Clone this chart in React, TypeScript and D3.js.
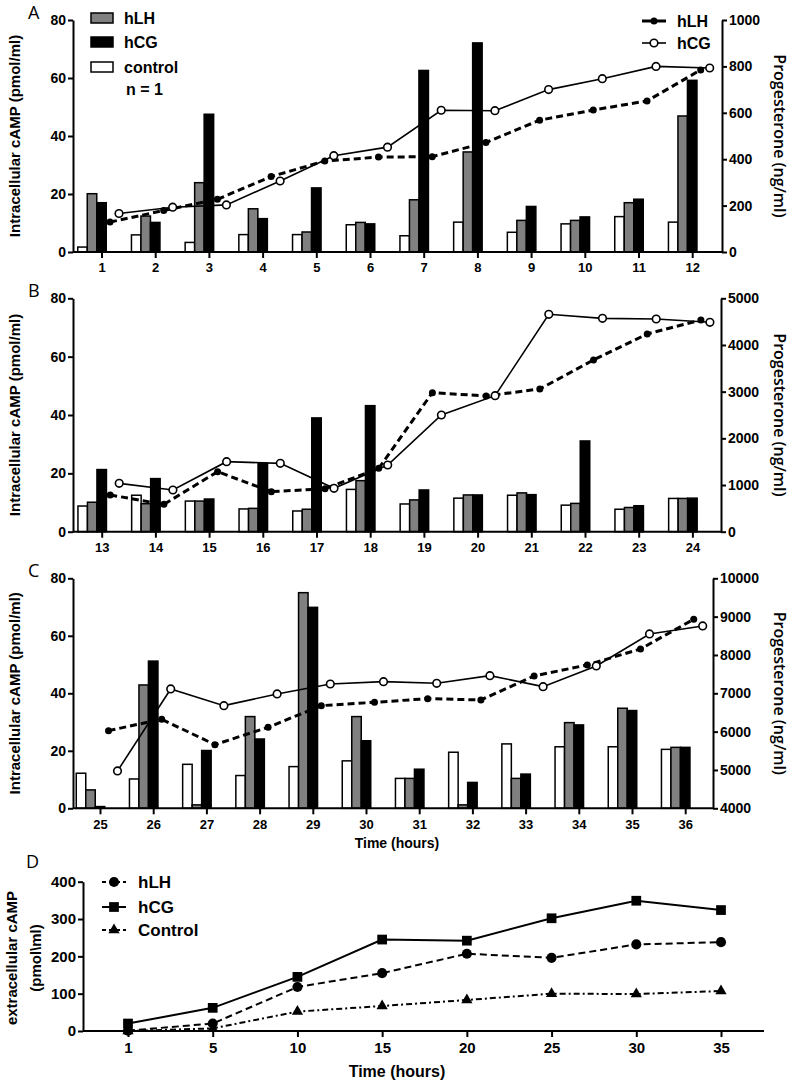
import React, { useEffect, useRef } from 'react';
import * as d3 from 'd3';

const W = 794, H = 1085;
const X0 = 73;           // left axis of panels A-C
const BW = 9.5;          // bar width
const OFF_LH = 8.5;      // progesterone hLH point offset from tick
const OFF_CG = 17.5;     // progesterone hCG point offset from tick
const FONT = "'Liberation Sans', Arial, sans-serif";
const FONT_R = "'Open Sans', 'Liberation Sans', sans-serif";

// ---- panel A (1-12)
const catsA = ['1', '2', '3', '4', '5', '6', '7', '8', '9', '10', '11', '12'];
const controlA = [1.7, 5.9, 3.3, 6.0, 6.0, 9.4, 5.6, 10.3, 6.8, 9.7, 12.2, 10.3];
const hlhA = [20.1, 12.4, 23.9, 14.9, 6.9, 10.2, 18.0, 34.5, 10.9, 10.9, 17.0, 46.9];
const hcgA = [17.0, 10.2, 47.5, 11.5, 22.1, 9.7, 62.6, 72.1, 15.7, 12.1, 18.2, 59.2];
const progLhA = [129, 179, 227, 325, 392, 409, 411, 472, 568, 612, 651, 785];
const progCgA = [166, 193, 203, 306, 415, 452, 611, 609, 700, 747, 800, 793];
const rTicksA = [0, 200, 400, 600, 800, 1000];

// ---- panel B (13-24)
const catsB = ['13', '14', '15', '16', '17', '18', '19', '20', '21', '22', '23', '24'];
const controlB = [8.8, 12.5, 10.5, 7.8, 7.1, 14.5, 9.5, 11.5, 12.5, 9.1, 7.7, 11.4];
const hlhB = [10.1, 9.6, 10.5, 8.0, 7.7, 17.5, 10.9, 12.6, 13.3, 9.7, 8.3, 11.4];
const hcgB = [21.3, 18.2, 11.2, 23.5, 39.0, 43.2, 14.3, 12.6, 12.7, 31.1, 8.9, 11.5];
const progLhB = [786, 586, 1286, 857, 921, 1357, 2979, 2907, 3057, 3679, 4236, 4536];
const progCgB = [1036, 893, 1500, 1464, 929, 1429, 2500, 2914, 4657, 4571, 4557, 4486];
const rTicksB = [0, 1000, 2000, 3000, 4000, 5000];

// ---- panel C (25-36)
const catsC = ['25', '26', '27', '28', '29', '30', '31', '32', '33', '34', '35', '36'];
const controlC = [12.2, 10.2, 15.3, 11.4, 14.5, 16.5, 10.4, 19.5, 22.4, 21.4, 21.4, 20.5];
const hlhC = [6.4, 42.9, 1.2, 31.9, 75.0, 31.9, 10.4, 1.2, 10.4, 29.8, 34.8, 21.2];
const hcgC = [0.6, 51.2, 20.1, 24.1, 69.9, 23.5, 13.6, 9.0, 11.9, 29.0, 34.0, 21.2];
const progLhC = [6026, 6322, 5661, 6113, 6678, 6765, 6861, 6826, 7452, 7739, 8157, 8930];
const progCgC = [4974, 7113, 6678, 6983, 7243, 7304, 7261, 7461, 7174, 7713, 8548, 8757];
const rTicksC = [4000, 5000, 6000, 7000, 8000, 9000, 10000];

const leftTicks = [0, 20, 40, 60, 80];

// ---- panel D
const timesD = ['1', '5', '10', '15', '20', '25', '30', '35'];
const hlhD = [1, 20, 118, 155, 207, 196, 232, 238];
const hcgD = [20, 62, 145, 245, 242, 302, 349, 324];
const controlD = [0, 7, 52, 67, 83, 100, 99, 107];
const ticksD = [0, 100, 200, 300, 400];

const panels = [
  { letter: 'A', cats: catsA, control: controlA, hlh: hlhA, hcg: hcgA, lh: progLhA, cg: progCgA, rTicks: rTicksA,
    top: 20, bottom: 252, right: 722, first: 101.5, step: 53.7, legend: true, xTitle: false },
  { letter: 'B', cats: catsB, control: controlB, hlh: hlhB, hcg: hcgB, lh: progLhB, cg: progCgB, rTicks: rTicksB,
    top: 298.3, bottom: 531.7, right: 721, first: 101.7, step: 53.7, legend: false, xTitle: false },
  { letter: 'C', cats: catsC, control: controlC, hlh: hlhC, hcg: hcgC, lh: progLhC, cg: progCgC, rTicks: rTicksC,
    top: 578.3, bottom: 808.3, right: 713, first: 100, step: 53.2, legend: false, xTitle: true },
];

function styleAxis(a, size) {
  a.selectAll('path, line').attr('stroke', '#000').attr('stroke-width', 2);
  a.selectAll('text').attr('font-family', FONT).attr('font-weight', 'bold').attr('font-size', size).attr('fill', '#000');
}

function drawPanel(svg, p) {
  const g = svg.append('g');
  const y = d3.scaleLinear().domain([0, 80]).range([p.bottom, p.top]);
  const yR = d3.scaleLinear().domain([p.rTicks[0], p.rTicks[p.rTicks.length - 1]]).range([p.bottom, p.top]);
  const x = d3.scaleLinear().domain([0, 11]).range([p.first, p.first + 11 * p.step]);

  // bars
  const series = [
    { vals: p.control, fill: '#fff', off: -2.5 },
    { vals: p.hlh, fill: '#808080', off: -1.5 },
    { vals: p.hcg, fill: '#000', off: -0.5 },
  ];
  series.forEach(s => {
    g.append('g').selectAll('rect').data(s.vals).join('rect')
      .attr('x', (d, i) => x(i) + s.off * BW)
      .attr('y', d => y(d))
      .attr('width', BW)
      .attr('height', d => y(0) - y(d))
      .attr('fill', s.fill).attr('stroke', '#000').attr('stroke-width', 1.5);
  });

  // axes
  const la = g.append('g').attr('transform', `translate(${X0},0)`)
    .call(d3.axisLeft(y).tickValues(leftTicks).tickSize(5).tickPadding(2).tickSizeOuter(0));
  styleAxis(la, 14);
  const ra = g.append('g').attr('transform', `translate(${p.right},0)`)
    .call(d3.axisRight(yR).tickValues(p.rTicks).tickSize(5).tickPadding(2).tickSizeOuter(0).tickFormat(d3.format('d')));
  styleAxis(ra, 14);
  const ba = g.append('g').attr('transform', `translate(0,${p.bottom})`)
    .call(d3.axisBottom(x).tickValues(d3.range(12)).tickSize(6).tickPadding(5).tickFormat(i => p.cats[i]));
  ba.select('.domain').remove();
  styleAxis(ba, 13);
  g.append('line').attr('x1', X0).attr('x2', p.right).attr('y1', p.bottom).attr('y2', p.bottom)
    .attr('stroke', '#000').attr('stroke-width', 2);

  // progesterone lines
  const lineLh = d3.line().x((d, i) => x(i) + OFF_LH).y(d => yR(d));
  const lineCg = d3.line().x((d, i) => x(i) + OFF_CG).y(d => yR(d));
  g.append('path').attr('d', lineLh(p.lh)).attr('fill', 'none').attr('stroke', '#000')
    .attr('stroke-width', 3).attr('stroke-dasharray', '7,4');
  g.append('path').attr('d', lineCg(p.cg)).attr('fill', 'none').attr('stroke', '#000').attr('stroke-width', 1.6);
  g.append('g').selectAll('circle').data(p.lh).join('circle')
    .attr('cx', (d, i) => x(i) + OFF_LH).attr('cy', d => yR(d)).attr('r', 3.5).attr('fill', '#000');
  g.append('g').selectAll('circle').data(p.cg).join('circle')
    .attr('cx', (d, i) => x(i) + OFF_CG).attr('cy', d => yR(d)).attr('r', 3.8)
    .attr('fill', '#fff').attr('stroke', '#000').attr('stroke-width', 1.6);

  // titles
  const mid = (p.top + p.bottom) / 2;
  g.append('text').attr('transform', `translate(15,${mid}) rotate(-90)`).attr('text-anchor', 'middle')
    .attr('dy', '0.35em').attr('font-family', FONT).attr('font-weight', 'bold').attr('font-size', 15)
    .text('Intracellular cAMP (pmol/ml)');
  g.append('text').attr('transform', `translate(780,${mid}) rotate(90)`).attr('text-anchor', 'middle')
    .attr('dy', '0.35em').attr('font-family', FONT_R).attr('font-weight', 600).attr('font-size', 16)
    .text('Progesterone (ng/ml)');
  g.append('text').attr('x', 28).attr('y', p.top - 1).attr('font-family', FONT_R).attr('font-size', 18)
    .text(p.letter);
  if (p.xTitle) {
    g.append('text').attr('x', 397).attr('y', p.bottom + 40).attr('text-anchor', 'middle')
      .attr('font-family', FONT).attr('font-weight', 'bold').attr('font-size', 14).text('Time (hours)');
  }

  if (p.legend) {
    const items = [
      { label: 'hLH', fill: '#808080', y: 13 },
      { label: 'hCG', fill: '#000', y: 37 },
      { label: 'control', fill: '#fff', y: 62 },
    ];
    items.forEach(it => {
      g.append('rect').attr('x', 91).attr('y', it.y).attr('width', 22).attr('height', 10)
        .attr('fill', it.fill).attr('stroke', '#000').attr('stroke-width', 1.5);
      g.append('text').attr('x', 124).attr('y', it.y + 5).attr('dy', '0.35em')
        .attr('font-family', FONT).attr('font-weight', 'bold').attr('font-size', 16).text(it.label);
    });
    g.append('text').attr('x', 126).attr('y', 89).attr('dy', '0.35em')
      .attr('font-family', FONT).attr('font-weight', 'bold').attr('font-size', 16).text('n = 1');

    // right legend
    g.append('line').attr('x1', 642).attr('x2', 666).attr('y1', 21).attr('y2', 21)
      .attr('stroke', '#000').attr('stroke-width', 3);
    g.append('circle').attr('cx', 654).attr('cy', 21).attr('r', 3.5).attr('fill', '#000');
    g.append('line').attr('x1', 642).attr('x2', 666).attr('y1', 43).attr('y2', 43)
      .attr('stroke', '#000').attr('stroke-width', 1.6);
    g.append('circle').attr('cx', 654).attr('cy', 43).attr('r', 3.8).attr('fill', '#fff')
      .attr('stroke', '#000').attr('stroke-width', 1.6);
    g.append('text').attr('x', 677).attr('y', 21).attr('dy', '0.35em')
      .attr('font-family', FONT).attr('font-weight', 'bold').attr('font-size', 16).text('hLH');
    g.append('text').attr('x', 677).attr('y', 43).attr('dy', '0.35em')
      .attr('font-family', FONT).attr('font-weight', 'bold').attr('font-size', 16).text('hCG');
  }
}

function drawD(svg) {
  const g = svg.append('g');
  const left = 83, right = 764, top = 881.7, bottom = 1031;
  const x = d3.scalePoint().domain(timesD).range([128, 721]);
  const y = d3.scaleLinear().domain([0, 400]).range([bottom, top]);

  const la = g.append('g').attr('transform', `translate(${left},0)`)
    .call(d3.axisLeft(y).tickValues(ticksD).tickSize(5).tickPadding(2).tickSizeOuter(0));
  styleAxis(la, 15);
  const ba = g.append('g').attr('transform', `translate(0,${bottom})`)
    .call(d3.axisBottom(x).tickSize(6).tickPadding(5));
  ba.select('.domain').remove();
  styleAxis(ba, 15);
  g.append('line').attr('x1', left).attr('x2', right).attr('y1', bottom).attr('y2', bottom)
    .attr('stroke', '#000').attr('stroke-width', 2);

  const series = [
    { vals: controlD, dash: '6,3,2,3', sym: d3.symbolTriangle, size: 55, label: 'Control' },
    { vals: hlhD, dash: '7,4', sym: d3.symbolCircle, size: 80, label: 'hLH' },
    { vals: hcgD, dash: null, sym: d3.symbolSquare, size: 95, label: 'hCG' },
  ];
  const line = d3.line().x((d, i) => x(timesD[i])).y(d => y(d));
  series.forEach(s => {
    g.append('path').attr('d', line(s.vals)).attr('fill', 'none').attr('stroke', '#000')
      .attr('stroke-width', 2).attr('stroke-dasharray', s.dash);
    g.append('g').selectAll('path').data(s.vals).join('path')
      .attr('transform', (d, i) => `translate(${x(timesD[i])},${y(d)})`)
      .attr('d', d3.symbol(s.sym, s.size)()).attr('fill', '#000');
  });

  // legend
  const legY = { hLH: 882, hCG: 907, Control: 930 };
  series.forEach(s => {
    const ly = legY[s.label];
    g.append('line').attr('x1', 102).attr('x2', 126).attr('y1', ly).attr('y2', ly)
      .attr('stroke', '#000').attr('stroke-width', 2).attr('stroke-dasharray', s.dash ? '4,3' : null);
    g.append('path').attr('transform', `translate(114,${ly})`).attr('d', d3.symbol(s.sym, s.size)()).attr('fill', '#000');
    g.append('text').attr('x', 138).attr('y', ly).attr('dy', '0.35em')
      .attr('font-family', FONT).attr('font-weight', 'bold').attr('font-size', 17).text(s.label);
  });

  g.append('text').attr('transform', `translate(12,958) rotate(-90)`).attr('text-anchor', 'middle')
    .attr('dy', '0.35em').attr('font-family', FONT).attr('font-weight', 'bold').attr('font-size', 15)
    .text('extracellular cAMP');
  g.append('text').attr('transform', `translate(36,958) rotate(-90)`).attr('text-anchor', 'middle')
    .attr('dy', '0.35em').attr('font-family', FONT).attr('font-weight', 'bold').attr('font-size', 15)
    .text('(pmol\\ml)');
  g.append('text').attr('x', 397).attr('y', 1077).attr('text-anchor', 'middle')
    .attr('font-family', FONT).attr('font-weight', 'bold').attr('font-size', 16).text('Time (hours)');
  g.append('text').attr('x', 26).attr('y', 868).attr('font-family', FONT_R).attr('font-size', 18).text('D');
}

export default function App() {
  const ref = useRef(null);

  useEffect(() => {
    const svg = d3.select(ref.current);
    svg.selectAll('*').remove();
    panels.forEach(p => drawPanel(svg, p));
    drawD(svg);
  }, []);

  return (
    <svg ref={ref} width={W} height={H}
      style={{ position: 'absolute', left: 0, top: 0, background: '#fff' }} />
  );
}
